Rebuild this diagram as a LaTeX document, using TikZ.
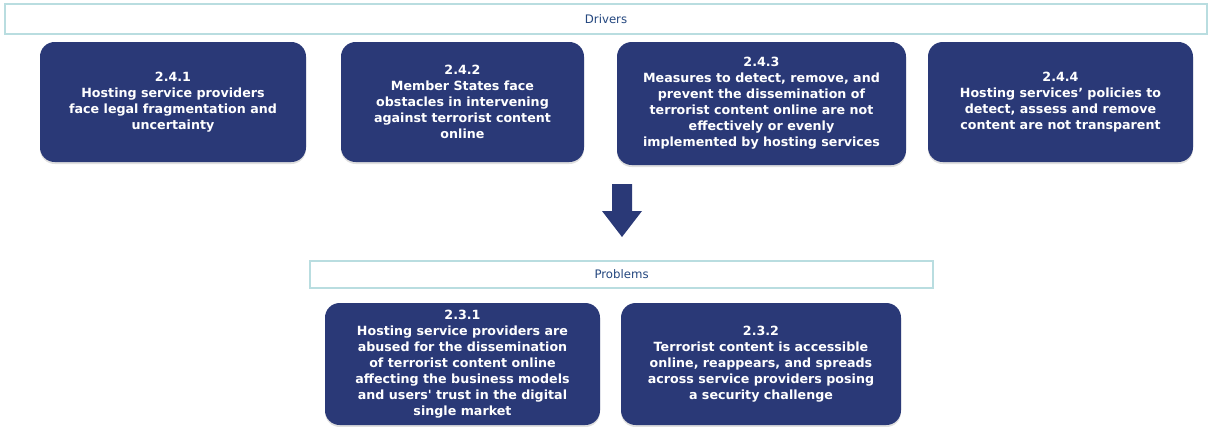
\documentclass[tikz,border=0pt]{standalone}
\usepackage{fontspec}
\setmainfont{DejaVu Sans}[Ligatures=TeXOff]
\usetikzlibrary{shadows}
\definecolor{navy}{HTML}{2A3977}
\definecolor{rimteal}{HTML}{B9DDE0}
\definecolor{headtext}{HTML}{24477F}
\tikzset{
  header/.style={draw=rimteal,line width=1.6pt,fill=white,text=headtext,
    font=\fontsize{8.8}{10}\selectfont,anchor=north west,inner sep=0pt},
  cause/.style={fill=navy,rounded corners=11pt,text=white,align=center,
    font=\bfseries\fontsize{9.5}{12}\selectfont,inner sep=0pt,
    drop shadow={shadow xshift=0pt,shadow yshift=-1.5pt,opacity=.25}}
}
\begin{document}
\begin{tikzpicture}[x=0.75pt,y=0.75pt]
        \useasboundingbox (0,0) rectangle (1210,-426);
        %% headers across the two rows
        \node[header,minimum width=1202*0.75pt,minimum height=30*0.75pt] (hdrDrivers) at (4,-3) {Drivers};
        \node[header,minimum width=623*0.75pt,minimum height=27*0.75pt] (hdrProblems) at (309,-260) {Problems};
        %% drivers
        \node[cause,minimum width=266*0.75pt,minimum height=120*0.75pt] (d1) at (173,-102)
            {2.4.1\\Hosting service providers\\face legal fragmentation and\\uncertainty};
        \node[cause,minimum width=243*0.75pt,minimum height=120*0.75pt] (d2) at (462.5,-102)
            {2.4.2\\Member States face\\obstacles in intervening\\against terrorist content\\online};
        \node[cause,minimum width=289*0.75pt,minimum height=123*0.75pt] (d3) at (761.5,-103.5)
            {2.4.3\\Measures to detect, remove, and\\prevent the dissemination of\\terrorist content online are not\\effectively or evenly\\implemented by hosting services};
        \node[cause,minimum width=265*0.75pt,minimum height=120*0.75pt] (d4) at (1060.5,-102)
            {2.4.4\\Hosting services’ policies to\\detect, assess and remove\\content are not transparent};
        %% problems
        \node[cause,minimum width=275*0.75pt,minimum height=122*0.75pt] (p1) at (462.5,-364)
            {2.3.1\\Hosting service providers are\\abused for the dissemination\\of terrorist content online\\affecting the business models\\and users' trust in the digital\\single market};
        \node[cause,minimum width=280*0.75pt,minimum height=122*0.75pt] (p2) at (761,-364)
            {2.3.2\\Terrorist content is accessible\\online, reappears, and spreads\\across service providers posing\\a security challenge};
        %% block arrow from drivers down to problems
        \coordinate (arrowTop) at (622,-184);
        \fill[navy] (arrowTop) ++(-10,0) -- ++(20,0) -- ++(0,-27) -- ++(10,0)
            -- ++(-20,-26) -- ++(-20,26) -- ++(10,0) -- cycle;
    \end{tikzpicture}
\end{document}
